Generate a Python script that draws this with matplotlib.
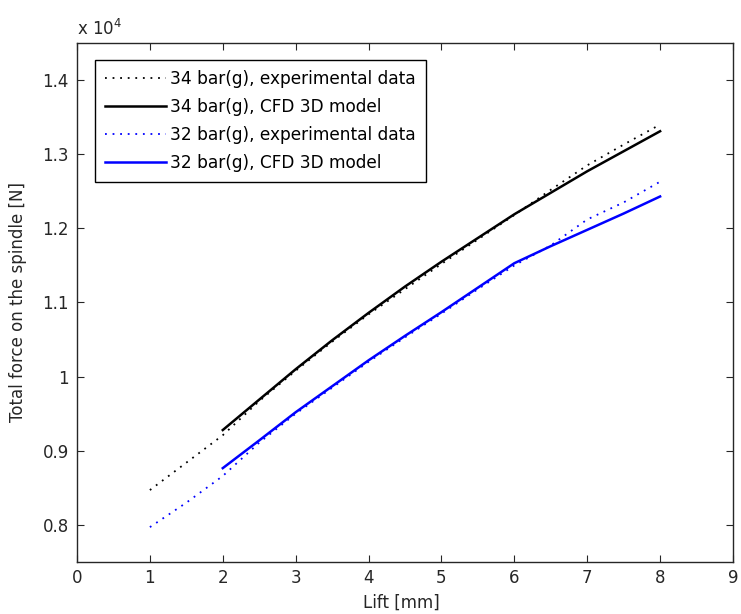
import matplotlib
matplotlib.use("Agg")
import matplotlib.pyplot as plt
import numpy as np
from matplotlib.ticker import FormatStrFormatter

plt.rcParams['font.family'] = ['DejaVu Sans']

# Lift [mm]
lift_exp = [1, 1.5, 2, 2.5, 3, 3.5, 4, 4.5, 5, 5.5, 6, 6.5, 7, 7.5, 8]
lift_cfd = [2, 2.5, 3, 3.5, 4, 4.5, 5, 5.5, 6, 6.5, 7, 7.5, 8]

# Total force on the spindle [N]
exp_34 = [8470, 8840, 9210, 9670, 10080, 10470, 10840, 11180, 11520, 11850,
          12180, 12520, 12850, 13130, 13400]
cfd_34 = [9280, 9690, 10100, 10490, 10860, 11215, 11550, 11870, 12190, 12480,
          12770, 13040, 13310]
exp_32 = [7970, 8300, 8660, 9110, 9500, 9850, 10200, 10530, 10850, 11180,
          11500, 11770, 12120, 12350, 12630]
cfd_32 = [8766, 9140, 9520, 9870, 10220, 10550, 10870, 11200, 11530, 11760,
          11980, 12200, 12430]

labels = ['34 bar(g), experimental data', '34 bar(g), CFD 3D model',
          '32 bar(g), experimental data', '32 bar(g), CFD 3D model']

scale = 1e4
fs = 12
tc = '#262626'

fig = plt.figure(figsize=(7.41, 6.14), dpi=100)
ax = fig.add_axes([77/741, 1 - 562/614, 656/741, 519/614])

dot = (1, 3.2)
ax.plot(lift_exp, np.array(exp_34)/scale, color='black', lw=1.3,
        dashes=dot, label=labels[0])
ax.plot(lift_cfd, np.array(cfd_34)/scale, color='black', lw=1.8,
        label=labels[1])
ax.plot(lift_exp, np.array(exp_32)/scale, color='blue', lw=1.3,
        dashes=dot, label=labels[2])
ax.plot(lift_cfd, np.array(cfd_32)/scale, color='blue', lw=1.8,
        label=labels[3])

ax.set_xlim(0, 9)
ax.set_ylim(0.75, 1.45)
ax.set_xticks(range(0, 10))
ax.set_yticks([0.8, 0.9, 1.0, 1.1, 1.2, 1.3, 1.4])
ax.yaxis.set_major_formatter(FormatStrFormatter('%g'))
ax.tick_params(direction='in', length=5, width=0.8, top=True, right=True,
               labelsize=fs, colors=tc, labelcolor=tc)
ax.tick_params(axis='x', pad=5)
ax.tick_params(axis='y', pad=6)
for s in ax.spines.values():
    s.set_linewidth(1.0)
    s.set_color(tc)

ax.set_xlabel('Lift [mm]', fontsize=fs, color=tc)
ax.set_ylabel('Total force on the spindle [N]', fontsize=fs, color=tc)
ax.xaxis.set_label_coords(0.494, -0.0617)
ax.yaxis.set_label_coords(-0.0762, 0.5)

fig.text(77/741, 1 - 35/614, r'x 10$^{4}$', fontsize=fs, color=tc,
         ha='left', va='baseline')

leg = ax.legend(loc='upper left', bbox_to_anchor=(18/656, 1 - 17/519),
                borderaxespad=0, fancybox=False, framealpha=1,
                edgecolor='black', fontsize=12.25, handlelength=3.55,
                handletextpad=0.28, labelspacing=0.58, borderpad=0.6)
leg.get_frame().set_linewidth(1.0)

fig.savefig('out.png', dpi=100)
